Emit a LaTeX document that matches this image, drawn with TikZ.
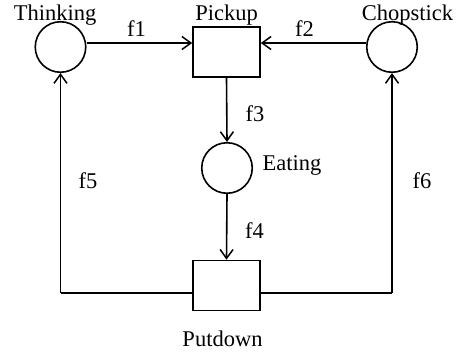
\documentclass[tikz,border=0pt]{standalone}
\usepackage{fontspec}
\setmainfont{Liberation Serif}
\usetikzlibrary{arrows.meta}
\begin{document}
\begin{tikzpicture}[x=1pt,y=-1pt,
  place/.style={draw,circle,line width=1.6pt,minimum size=50.5pt,inner sep=0pt},
  trans/.style={draw,rectangle,line width=1.6pt,minimum width=67pt,minimum height=50pt,inner sep=0pt},
  lbl/.style={inner sep=0pt,anchor=base,font=\fontsize{22.5}{24}\selectfont},
  arr/.style={line width=1.6pt,-{Straight Barb[length=9pt,width=13pt,line width=1.5pt]}},
  ln/.style={line width=1.6pt}]
\useasboundingbox (0,0) rectangle (457,356);
\node[place] (T) at (60.5,47) {};
\node[trans] (P) at (226.5,52) {};
\node[place] (C) at (392,47) {};
\node[place] (E) at (227,168) {};
\node[trans] (D) at (226.5,285.5) {};

\node[lbl] (tT) at (55,20.5) {Thinking};
\node[lbl] (tP) at (226.5,20.5) {Pickup};
\node[lbl] (tC) at (407.5,20.5) {Chopstick};
\node[lbl] (tE) at (292,170.5) {Eating};
\node[lbl] (tD) at (222.5,346.5) {Putdown};

\node[lbl] (f1) at (136.5,36.5) {f1};
\node[lbl] (f2) at (304.5,36.5) {f2};
\node[lbl] (f3) at (255,121) {f3};
\node[lbl] (f4) at (254.5,238.3) {f4};
\node[lbl] (f5) at (88,188.3) {f5};
\node[lbl] (f6) at (422,188.3) {f6};

\draw[arr] ([yshift=4pt]T.east) -- ([yshift=4pt]T.east -| P.west);
\draw[arr] ([yshift=4pt]C.west) -- ([yshift=4pt]C.west -| P.east);
\draw[arr] (P.south) -- (E.north);
\draw[arr] (E.south) -- (D.north);
\coordinate (dl) at ([yshift=-7.3pt]D.west -| T.south);
\coordinate (dr) at ([yshift=-7.3pt]D.east -| C.south);
\draw[ln] ([yshift=-7.3pt]D.west) -- (dl);
\draw[arr] (dl) -- (T.south);
\draw[ln] ([yshift=-7.3pt]D.east) -- (dr);
\draw[arr] (dr) -- (C.south);
\end{tikzpicture}
\end{document}
